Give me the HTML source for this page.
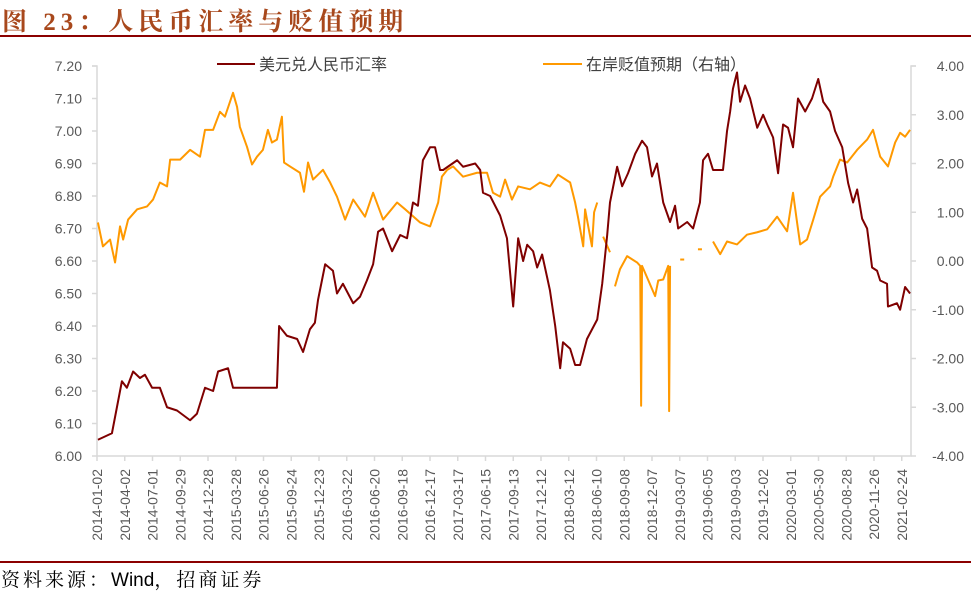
<!DOCTYPE html>
<html><head><meta charset="utf-8"><style>
body{margin:0;background:#fff;width:971px;height:595px;overflow:hidden;position:relative;font-family:"Liberation Sans","Noto Sans CJK SC",sans-serif}
#title{position:absolute;left:2px;top:2px;font-family:"Liberation Serif","Noto Serif CJK SC",serif;font-weight:bold;font-size:25px;color:#A8481C;letter-spacing:5px;white-space:nowrap}
#source{position:absolute;left:1px;top:565px;font-family:"Liberation Serif","Noto Serif CJK SC",serif;font-size:19px;color:#000;letter-spacing:3px;white-space:nowrap}
#source .w{font-family:"Liberation Sans",sans-serif;letter-spacing:0}
.rule{position:absolute;left:0;width:971px;height:2px;background:#8B0000}
svg{position:absolute;left:0;top:0}
</style></head><body>
<div id="title">图 23：人民币汇率与贬值预期</div>
<div class="rule" style="top:35px"></div>
<div class="rule" style="top:561px"></div>
<div id="source">资料来源：<span class="w">Wind</span>，招商证券</div>
<svg id="chart" width="971" height="595"></svg>
<script>
const xTickLabels=["2014-01-02","2014-04-02","2014-07-01","2014-09-29","2014-12-28","2015-03-28","2015-06-26","2015-09-24","2015-12-23","2016-03-22","2016-06-20","2016-09-18","2016-12-17","2017-03-17","2017-06-15","2017-09-13","2017-12-12","2018-03-12","2018-06-10","2018-09-08","2018-12-07","2019-03-07","2019-06-05","2019-09-03","2019-12-02","2020-03-01","2020-05-30","2020-08-28","2020-11-26","2021-02-24"];
const leftTicks=[6.00,6.10,6.20,6.30,6.40,6.50,6.60,6.70,6.80,6.90,7.00,7.10,7.20];
const rightTicks=[-4,-3,-2,-1,0,1,2,3,4];
// days since 2014-01-02
const cnyDays=[3,48,64,80,96,116,138,154,177,202,225,257,299,321,347,373,389,421,437,482,578,585,610,643,662,684,700,710,733,758,771,790,823,845,867,887,903,919,948,974,996,1015,1031,1047,1070,1086,1102,1112,1157,1176,1215,1231,1240,1263,1295,1317,1337,1353,1369,1382,1401,1414,1430,1446,1455,1472,1488,1497,1520,1536,1552,1574,1607,1623,1639,1648,1671,1687,1706,1729,1751,1767,1783,1799,1819,1841,1857,1867,1896,1915,1937,1947,1963,1979,2011,2024,2034,2043,2056,2066,2082,2098,2121,2140,2153,2172,2188,2204,2220,2236,2252,2275,2297,2317,2333,2355,2371,2394,2413,2429,2442,2458,2474,2490,2506,2516,2538,2541,2570,2580,2596,2612];
const cnyValues=[6.05,6.07,6.15,6.23,6.21,6.26,6.24,6.25,6.21,6.21,6.15,6.14,6.11,6.13,6.21,6.20,6.26,6.27,6.21,6.21,6.21,6.40,6.37,6.36,6.32,6.39,6.41,6.48,6.59,6.57,6.50,6.53,6.47,6.49,6.54,6.59,6.69,6.70,6.63,6.68,6.67,6.78,6.77,6.91,6.95,6.95,6.88,6.88,6.91,6.89,6.90,6.88,6.81,6.80,6.74,6.67,6.46,6.67,6.60,6.65,6.63,6.58,6.62,6.55,6.51,6.40,6.27,6.35,6.33,6.28,6.28,6.36,6.42,6.53,6.68,6.78,6.89,6.83,6.87,6.93,6.97,6.95,6.86,6.90,6.78,6.72,6.77,6.70,6.72,6.70,6.78,6.91,6.93,6.88,6.88,7.00,7.06,7.13,7.18,7.09,7.14,7.10,7.01,7.05,7.02,6.98,6.87,7.02,7.01,6.95,7.10,7.06,7.10,7.16,7.09,7.06,7.00,6.95,6.84,6.78,6.82,6.73,6.70,6.58,6.57,6.54,6.53,6.46,6.47,6.45,6.52,6.50];
const expDays=[3,19,42,58,74,84,100,129,161,180,202,225,235,267,299,331,347,373,395,411,437,450,459,482,498,514,533,549,562,578,594,601,620,652,665,678,694,726,749,771,797,823,861,887,919,964,990,1038,1070,1096,1108,1125,1144,1176,1221,1253,1272,1295,1311,1333,1353,1391,1423,1455,1481,1520,1536,1545,1562,1568,1590,1597,1607,1612,1626,1648,1655,1664,1680,1703,1735,1745,1748,1751,1770,1793,1803,1819,1835,1838,1841,1860,1880,1900,1937,1960,1979,2002,2024,2056,2088,2121,2153,2185,2217,2236,2249,2259,2281,2301,2323,2355,2365,2387,2410,2442,2474,2493,2516,2541,2564,2580,2596,2612];
const expValues=[0.79,0.30,0.44,-0.03,0.71,0.44,0.85,1.06,1.12,1.26,1.61,1.53,2.08,2.08,2.28,2.14,2.69,2.69,3.06,2.96,3.45,3.16,2.75,2.34,1.98,2.14,2.28,2.69,2.43,2.49,2.96,2.02,1.94,1.81,1.42,2.02,1.67,1.87,1.61,1.32,0.85,1.26,0.91,1.40,0.85,1.20,1.06,0.79,0.71,1.20,1.73,1.87,1.94,1.73,1.81,1.81,1.40,1.32,1.67,1.26,1.53,1.47,1.61,1.53,1.77,1.61,1.20,0.91,0.30,1.06,0.30,1.00,1.20,null,0.50,0.18,null,-0.52,-0.17,0.10,-0.03,-0.10,-2.97,-0.10,-0.38,-0.72,-0.40,-0.38,-0.10,-3.08,-0.10,null,0.03,null,0.24,null,0.40,0.14,0.40,0.34,0.54,0.59,0.65,0.91,0.61,1.40,0.79,0.34,0.44,0.85,1.32,1.53,1.73,2.08,2.02,2.28,2.49,2.69,2.14,1.94,2.43,2.63,2.55,2.69];

const NS="http://www.w3.org/2000/svg";
const svg=document.getElementById('chart');
const X0=97,X1=911,Y0=66,Y1=456,DMAX=2615;
const xs=d=>X0+d*(X1-X0)/DMAX;
const yL=v=>Y1-(v-6.0)/1.2*(Y1-Y0);
const yR=v=>Y1-(v+4)/8*(Y1-Y0);
function mk(tag,attrs){const e=document.createElementNS(NS,tag);for(const k in attrs)e.setAttribute(k,attrs[k]);svg.appendChild(e);return e;}
let a=mk('path',{d:`M${X0-5},${Y0}H${X0}V${Y1}H${X1}V${Y0}H${X1+5}`,stroke:'#d9d9d9',fill:'none','stroke-width':1.5});


leftTicks.forEach(v=>{
  const y=yL(v);
  const t=mk('line',{x1:X0-5,x2:X0,y1:y,y2:y,stroke:'#d9d9d9','stroke-width':1.5});
  
  
  const l=mk('text',{x:82,y:y+5,'text-anchor':'end','font-size':14,fill:'#595959'});
  l.textContent=v.toFixed(2);
  
  
});
rightTicks.forEach(v=>{
  const y=yR(v);
  const t=mk('line',{x1:X1,x2:X1+5,y1:y,y2:y,stroke:'#d9d9d9','stroke-width':1.5});
  
  
  const l=mk('text',{x:964,y:y+5,'text-anchor':'end','font-size':14,fill:'#595959'});
  l.textContent=v.toFixed(2);
  
  
});
xTickLabels.forEach((s,i)=>{
  const x=X0+i*27.75;
  const t=mk('line',{x1:x,x2:x,y1:Y1,y2:Y1+5,stroke:'#d9d9d9','stroke-width':1.5});
  
  
  const l=mk('text',{x:0,y:0,'text-anchor':'end','font-size':14,fill:'#595959',transform:`translate(${x+5},${Y1+13}) rotate(-90)`});
  l.textContent=s;
  
  
});
function series(days,vals,yf,color,name){
  let segs=[],cur=[];
  days.forEach((d,i)=>{
    if(vals[i]===null){if(cur.length)segs.push(cur);cur=[];}
    else cur.push([xs(d),yf(vals[i])]);
  });
  if(cur.length)segs.push(cur);
  segs.forEach(s=>{
    if(s.length===1){
      const c=mk('rect',{x:s[0][0]-2,y:s[0][1]-1,width:4,height:2,fill:color});
      
      
    }else{
      const p=mk('polyline',{points:s.map(q=>q.join(',')).join(' '),fill:'none',stroke:color,'stroke-width':2,'stroke-linejoin':'round'});
      
      
    }
  });
}
series(expDays,expValues,yR,'#FF9900','expectation-line');
series(cnyDays,cnyValues,yL,'#7F0000','usdcny-line');
let g;
g=mk('line',{x1:217,x2:255,y1:64,y2:64,stroke:'#7F0000','stroke-width':2});


g=mk('text',{x:259,y:70,'font-size':16,fill:'#404040'});
g.textContent='美元兑人民币汇率';


g=mk('line',{x1:543,x2:582,y1:64,y2:64,stroke:'#FF9900','stroke-width':2});


g=mk('text',{x:586,y:70,'font-size':16,fill:'#404040'});
g.textContent='在岸贬值预期（右轴）';


</script>
</body></html>
